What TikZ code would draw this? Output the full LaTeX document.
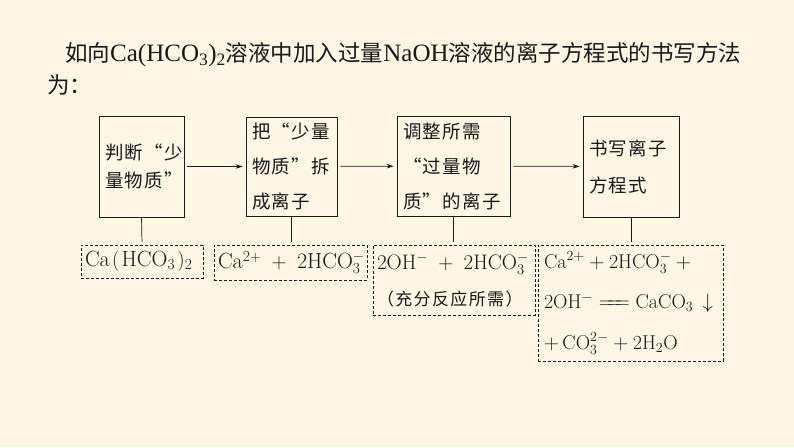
\documentclass[tikz,border=0pt]{standalone}
\usepackage{fontspec}
\usetikzlibrary{arrows.meta}
\newfontfamily\cjk{Noto Sans CJK SC}
\newfontfamily\cjkls[LetterSpace=8]{Noto Sans CJK SC}
\newfontfamily\tnr{Liberation Serif}
\definecolor{bg}{RGB}{253,246,228}
\definecolor{ink}{RGB}{25,25,25}
\newcommand{\longeq}{\mathrel{=\mkern-6mu=\mkern-6mu=}}
\begin{document}
\begin{tikzpicture}[x=1pt,y=-1pt,
  solidbox/.style={draw=ink, line width=0.8pt, inner xsep=6pt, inner ysep=0pt, align=left, text=ink,
    font=\cjkls\fontsize{18.5}{35}\selectfont},
  dashbox/.style={draw=ink, line width=0.7pt, dash pattern=on 3pt off 2pt, inner xsep=4pt, inner ysep=0pt,
    align=left, text=ink, font=\fontsize{22}{36}\selectfont},
  link/.style={draw=ink, line width=0.7pt, -{Stealth[length=7pt,width=4.5pt]}, shorten <=3pt, shorten >=3pt},
  drop/.style={draw=ink, line width=0.7pt, shorten >=3pt},
  titlefont/.style={font=\cjk\fontsize{22.5}{30}\selectfont, text=ink, inner sep=0pt}]
\fill[bg] (0,0) rectangle (794,447);
\useasboundingbox (0,0) rectangle (794,447);

% title
\node[titlefont, anchor=west] (t1) at (65,55)
  {如向{\tnr\fontsize{25}{30}\selectfont Ca(HCO\textsubscript{3})\textsubscript{2}}溶液中加入过量{\tnr\fontsize{25}{30}\selectfont NaOH}溶液的离子方程式的书写方法};
\node[titlefont, anchor=west] (t2) at (47,85) {为：};

% solid step boxes
\node[solidbox, text width=73pt, minimum height=101pt, font=\cjkls\fontsize{18.5}{28}\selectfont] (b1) at (141.5,166.5)
  {判断“少\\量物质”};
\node[solidbox, text width=79pt, minimum height=99pt] (b2) at (291.5,166.5)
  {把“少量\\物质”拆\\成离子};
\node[solidbox, text width=101pt, minimum height=100pt] (b3) at (453.5,166)
  {调整所需\\“过量物\\质”的离子};
\node[solidbox, text width=84pt, minimum height=101pt, font=\cjkls\fontsize{18.5}{37}\selectfont] (b4) at (631,166.5)
  {书写离子\\方程式};

% dashed boxes
\node[dashbox, text width=114pt, minimum height=33pt] (d1) at (142,261.5)
  {\mbox{$\mathrm{Ca\mkern2mu(\mkern2mu HCO_3\mkern2mu)_2}$}};
\node[dashbox, text width=145pt, minimum height=35pt] (d2) at (290.5,262.5)
  {\mbox{$\mathrm{Ca^{2+}}\;+\;\mathrm{2HCO_3^-}$}};
\node[dashbox, text width=154pt, minimum height=70pt, font=\fontsize{21}{36}\selectfont] (d3) at (454,280)
  {\mbox{$\mathrm{2OH^-}\;+\;\mathrm{2HCO_3^-}$}\\{\cjkls\fontsize{17}{36}\selectfont （充分反应所需）}};
\node[dashbox, inner xsep=6pt, text width=173pt, minimum height=116pt, font=\fontsize{20}{40.5}\selectfont] (d4) at (630.5,303)
  {\mbox{$\mathrm{Ca^{2+}}+\mathrm{2HCO_3^-}+{}$}\\
   \mbox{$\mathrm{2OH^-}\longeq\mathrm{CaCO_3}\,\downarrow$}\\
   \mbox{$+\,\mathrm{CO_3^{2-}}+\mathrm{2H_2O}$}};

% connectors
\draw[link] (b1) -- (b2);
\draw[link] (b2) -- (b3);
\draw[link] (b3) -- (b4);
\draw[drop] (b1.south) -- (d1.north);
\draw[drop] (b2.south) -- (b2.south |- d2.north);
\draw[drop] (b3.south) -- (b3.south |- d3.north);
\draw[drop] (b4.south) -- (b4.south |- d4.north);
\end{tikzpicture}
\end{document}
